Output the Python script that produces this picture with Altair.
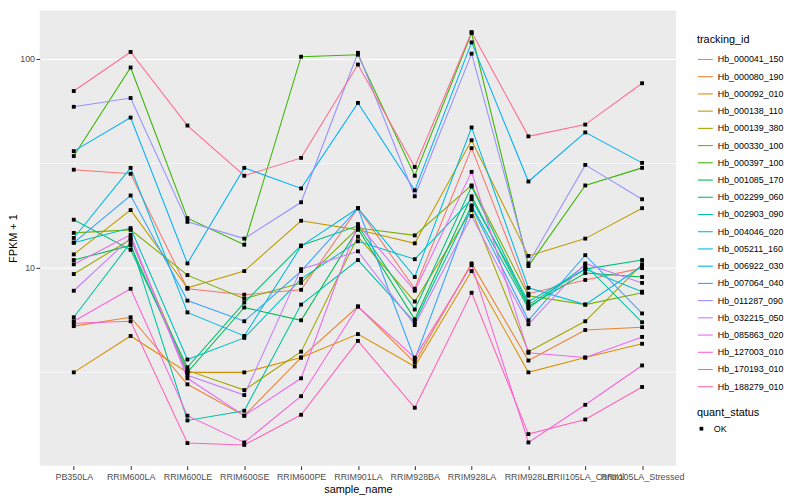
import altair as alt
import pandas as pd

samples = ["PB350LA", "RRIM600LA", "RRIM600LE", "RRIM600SE", "RRIM600PE",
           "RRIM901LA", "RRIM928BA", "RRIM928LA", "RRIM928LE",
           "RRII105LA_Control", "RRII105LA_Stressed"]

tracking_ids = ["Hb_000041_150", "Hb_000080_190", "Hb_000092_010", "Hb_000138_110",
                "Hb_000139_380", "Hb_000330_100", "Hb_000397_100", "Hb_001085_170",
                "Hb_002299_060", "Hb_002903_090", "Hb_004046_020", "Hb_005211_160",
                "Hb_006922_030", "Hb_007064_040", "Hb_011287_090", "Hb_032215_050",
                "Hb_085863_020", "Hb_127003_010", "Hb_170193_010", "Hb_188279_010"]

hb_000041_150 = [29.5, 28.2, 7.94, 7.44, 7.85, 19.3, 7.94, 37.4, 7.52, 8.75, 9.97]
hb_000080_190 = [5.26, 5.80, 2.77, 1.96, 3.72, 6.53, 3.52, 10.5, 3.60, 5.04, 5.20]
hb_000092_010 = [3.16, 4.72, 3.16, 3.16, 3.72, 4.82, 3.37, 9.65, 3.16, 3.72, 4.33]
hb_000138_110 = [11.6, 18.9, 8.02, 9.65, 16.8, 15.2, 13.1, 40.8, 11.4, 13.8, 19.3]
hb_000139_380 = [9.34, 13.7, 3.23, 2.60, 3.97, 14.1, 6.90, 18.9, 3.97, 5.55, 10.4]
hb_000330_100 = [14.7, 15.2, 9.23, 7.12, 8.47, 15.5, 14.3, 24.8, 7.36, 6.67, 7.60]
hb_000397_100 = [34.3, 91.0, 17.3, 12.9, 102.5, 104.8, 27.6, 133.0, 10.2, 24.8, 30.1]
hb_001085_170 = [10.9, 12.8, 3.16, 6.46, 5.61, 15.4, 5.67, 22.0, 6.53, 9.44, 9.04]
hb_002299_060 = [17.0, 12.2, 3.34, 6.82, 12.8, 15.9, 6.32, 24.5, 6.67, 9.86, 10.9]
hb_002903_090 = [5.80, 13.2, 1.86, 2.07, 6.67, 10.9, 5.49, 19.9, 6.39, 10.3, 5.49]
hb_004046_020 = [13.2, 15.5, 3.64, 4.62, 8.85, 13.4, 11.0, 21.3, 6.90, 9.86, 7.69]
hb_005211_160 = [13.9, 30.1, 6.12, 4.72, 12.7, 19.3, 9.04, 47.0, 8.02, 6.67, 10.2]
hb_006922_030 = [36.2, 52.4, 10.5, 30.1, 24.0, 61.6, 23.5, 120.0, 25.9, 44.5, 31.8]
hb_007064_040 = [13.2, 22.2, 6.97, 5.55, 9.65, 19.3, 3.64, 19.6, 5.61, 11.5, 6.05]
hb_011287_090 = [59.0, 65.0, 16.6, 13.8, 20.6, 107.0, 22.0, 106.0, 10.5, 31.1, 21.3]
hb_032215_050 = [7.77, 13.9, 3.06, 2.46, 9.86, 12.0, 5.32, 17.7, 5.37, 10.5, 8.47]
hb_085863_020 = [10.4, 14.4, 2.96, 1.96, 2.96, 16.2, 7.77, 28.8, 3.92, 3.72, 4.67]
hb_127003_010 = [5.55, 7.94, 1.96, 1.46, 2.43, 6.53, 3.72, 10.3, 1.46, 2.21, 3.41]
hb_170193_010 = [5.43, 5.55, 1.45, 1.42, 1.98, 4.47, 2.14, 7.60, 1.60, 1.88, 2.69]
hb_188279_010 = [70.2, 108.0, 48.0, 27.6, 33.6, 94.0, 30.4, 134.5, 42.6, 48.5, 76.5]

series = [hb_000041_150, hb_000080_190, hb_000092_010, hb_000138_110, hb_000139_380,
          hb_000330_100, hb_000397_100, hb_001085_170, hb_002299_060, hb_002903_090,
          hb_004046_020, hb_005211_160, hb_006922_030, hb_007064_040, hb_011287_090,
          hb_032215_050, hb_085863_020, hb_127003_010, hb_170193_010, hb_188279_010]

palette = ["#F8766D", "#EA8331", "#D89000", "#C09B00", "#A3A500", "#7CAE00", "#39B600",
           "#00BB4E", "#00BF7D", "#00C1A3", "#00BFC4", "#00BAE0", "#00B0F6", "#35A2FF",
           "#9590FF", "#C77CFF", "#E76BF3", "#FA62DB", "#FF62BC", "#FF6C91"]

major_breaks = [10, 100]
minor_breaks = [3.162, 31.62]
y_domain = [1.128, 170.6]

rows = []
for tid, vals in zip(tracking_ids, series):
    for i, (s, v) in enumerate(zip(samples, vals)):
        rows.append({"tracking_id": tid, "sample_name": s, "idx": i,
                     "fpkm": v, "quant_status": "OK"})
df = pd.DataFrame(rows)

FONT = "Liberation Sans"

x_enc = alt.X("sample_name:N", sort=samples,
              scale=alt.Scale(type="point", padding=0.6),
              axis=alt.Axis(title="sample_name", labelAngle=0, labelOverlap=False,
                            labelPadding=3, titlePadding=2))
y_scale = alt.Scale(type="log", domain=y_domain, nice=False)
y_enc = alt.Y("fpkm:Q", scale=y_scale,
              axis=alt.Axis(title="FPKM + 1", values=major_breaks, format="d",
                            labelPadding=1.5, titleX=-21))

minor = alt.Chart(pd.DataFrame({"fpkm": minor_breaks})).mark_rule(
    color="white", strokeWidth=0.55
).encode(y=alt.Y("fpkm:Q", scale=y_scale, title="FPKM + 1"))

lines = alt.Chart(df).mark_line(strokeWidth=1.07).encode(
    x=x_enc, y=y_enc,
    color=alt.Color("tracking_id:N", sort=tracking_ids,
                    scale=alt.Scale(domain=tracking_ids, range=palette),
                    legend=alt.Legend(title="tracking_id", orient="none",
                                      legendX=664, legendY=24,
                                      symbolType="stroke", symbolSize=225,
                                      symbolStrokeWidth=1.1, rowPadding=3.4,
                                      labelOffset=4, titlePadding=6,
                                      labelFontSize=9, titleFontSize=11)),
    detail="tracking_id:N",
    order="idx:Q",
)

points = alt.Chart(df).mark_point(filled=True, color="black", opacity=1, size=15).encode(
    x=x_enc, y=y_enc,
    shape=alt.Shape("quant_status:N", scale=alt.Scale(range=["square"]),
                    legend=alt.Legend(title="quant_status", orient="none",
                                      legendX=664, legendY=401,
                                      symbolFillColor="black", symbolStrokeColor="black",
                                      symbolSize=14, labelOffset=8, titlePadding=6,
                                      labelFontSize=9, titleFontSize=11)),
)

chart = alt.layer(minor, lines, points).properties(
    width=643, height=460,
    padding={"left": 32, "top": 0, "right": 117, "bottom": 30},
    autosize=alt.AutoSizeParams(type="none"),
).configure_view(
    fill="#EBEBEB", stroke=None
).configure_axis(
    gridColor="white", gridWidth=1.07, domain=False,
    tickColor="#333333", tickSize=3.7, tickWidth=1.07,
    labelColor="#4D4D4D", labelFontSize=9, labelFont=FONT,
    titleFontSize=11, titleFontWeight="normal", titleColor="black", titleFont=FONT,
).configure_legend(
    labelFont=FONT, titleFont=FONT, titleFontWeight="normal",
    titleColor="black", labelColor="black",
)

chart.save("out.html", embed_options={"renderer": "svg", "actions": False})
